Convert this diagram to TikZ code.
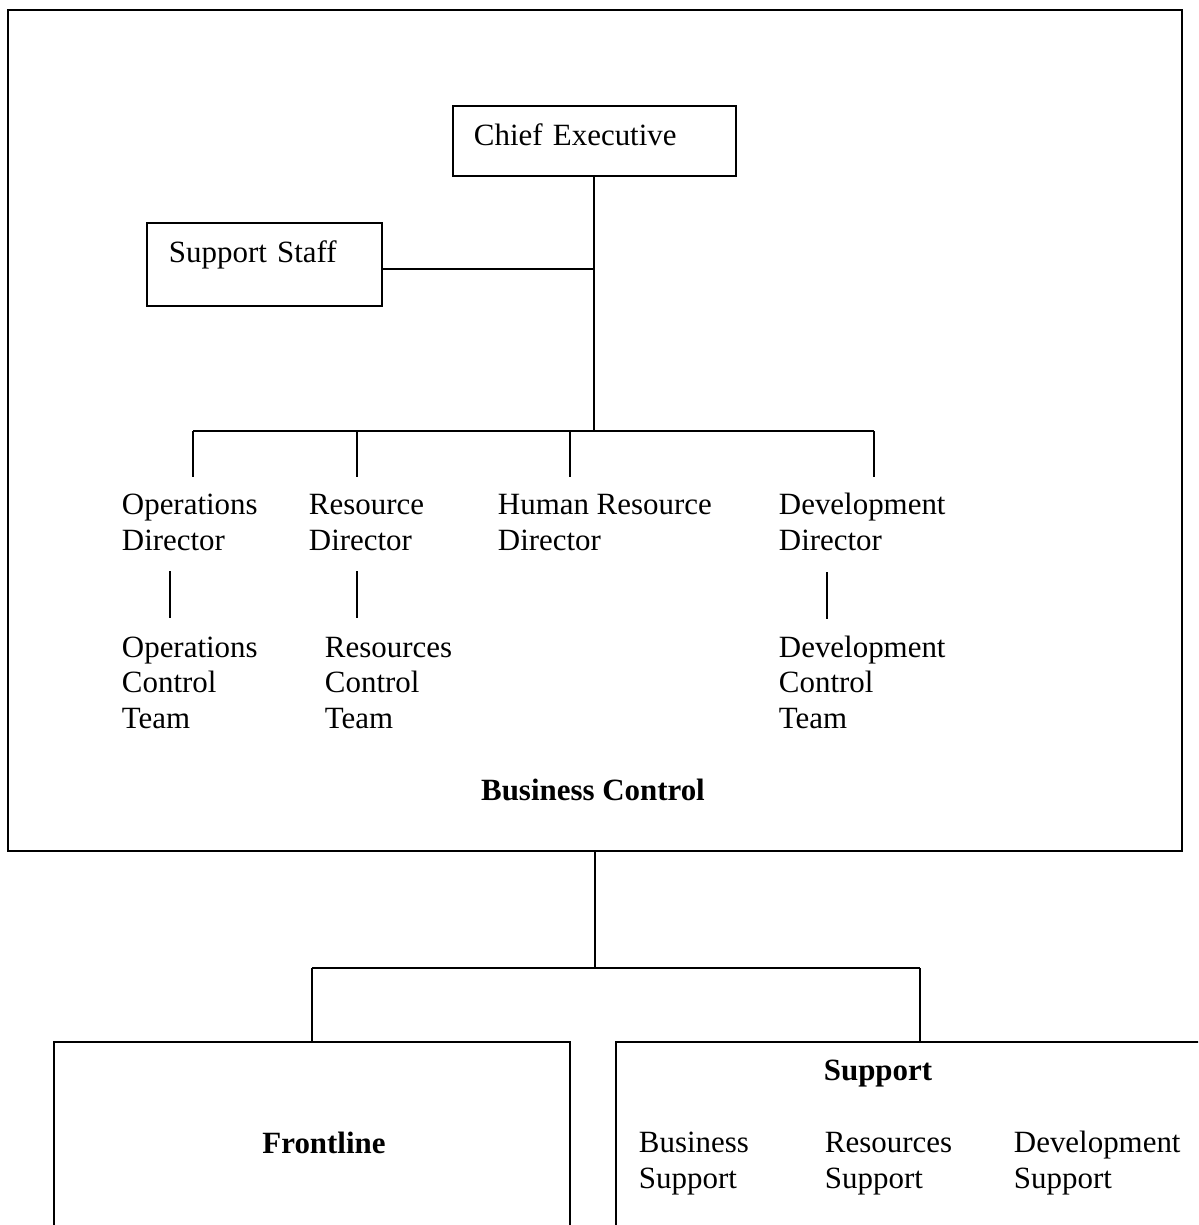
\documentclass[tikz,border=0pt]{standalone}
\usepackage{fontspec}
\setmainfont{Liberation Serif}

\begin{document}
\begin{tikzpicture}[x=0.02cm,y=-0.02cm,line width=1.1pt,
  every node/.style={font=\fontsize{17.6}{20.2}\selectfont},
  post/.style={draw,anchor=north west,align=left,inner ysep=0pt,text height=0.8cm},
  lbl/.style={anchor=base west,align=left,inner sep=0pt},
  head/.style={anchor=base,inner sep=0pt,font=\fontsize{17.6}{20.2}\selectfont\bfseries},
  unit/.style={draw,anchor=north,inner sep=0pt,minimum height=4.4cm}]

 \clip (0,0) rectangle (1198,1225); % page size

% Business control frame
 \node[draw,anchor=north west,inner sep=0pt,minimum width=23.48cm,minimum height=16.82cm] (bc) at (7,9) {};
 \node[head] (bctitle) at (593,800) {Business Control};

% Top posts
 \node[post,text width=4.82cm,inner xsep=0.42cm,text depth=0.6cm] (ce) at (452,105) {Chief Executive};
 \node[post,text width=3.82cm,inner xsep=0.44cm,text depth=0.86cm] (ss) at (146,222) {Support Staff};

 \coordinate (bar) at (593,431);
 \coordinate (sslink) at ([yshift=-0.09cm]ss.east);
 \draw (ce.south) -- (ce.south |- bar);
 \draw (sslink) -- (sslink -| ce.south);

% Directors
 \node[lbl] (opsdir) at (121,550) {Operations\\Director};
 \node[lbl] (resdir) at (308,550) {Resource\\Director};
 \node[lbl] (hrdir) at (497,550) {Human Resource\\Director};
 \node[lbl] (devdir) at (778,550) {Development\\Director};

 \coordinate (opsdrop) at (193,477);
 \coordinate (resdrop) at (357,477);
 \coordinate (hrdrop) at (570,477);
 \coordinate (devdrop) at (874,477);
 \draw (opsdrop |- bar) -- (devdrop |- bar);
 \foreach \n in {ops,res,hr,dev}
   \draw (\n drop |- bar) -- (\n drop);

% Control teams
 \node[lbl] (opsteam) at (121,728) {Operations\\Control\\Team};
 \node[lbl] (resteam) at (324,728) {Resources\\Control\\Team};
 \node[lbl] (devteam) at (778,728) {Development\\Control\\Team};

 \coordinate (opsA) at (170,571); \coordinate (opsB) at (170,618);
 \coordinate (resA) at (357,571); \coordinate (resB) at (357,618);
 \coordinate (devA) at (827,572); \coordinate (devB) at (827,619);
 \draw (opsA) -- (opsB);
 \draw (resA) -- (resB);
 \draw (devA) -- (devB);

% Frontline and support
 \node[unit,minimum width=10.32cm] (front) at (312,1041) {};
 \node[unit,minimum width=12.16cm] (supp) at (920,1041) {};
 \node[head] (fltitle) at (324,1153) {Frontline};
 \node[head] (sptitle) at (878,1080) {Support};
 \node[lbl] (bussup) at (638,1188) {Business\\Support};
 \node[lbl] (ressup) at (824,1188) {Resources\\Support};
 \node[lbl] (devsup) at (1013,1188) {Development\\Support};

 \coordinate (split) at (593,968);
 \draw (bc.south) -- (bc.south |- split);
 \draw (front.north |- split) -- (supp.north |- split);
 \draw (front.north |- split) -- (front.north);
 \draw (supp.north |- split) -- (supp.north);

\end{tikzpicture}
\end{document}
